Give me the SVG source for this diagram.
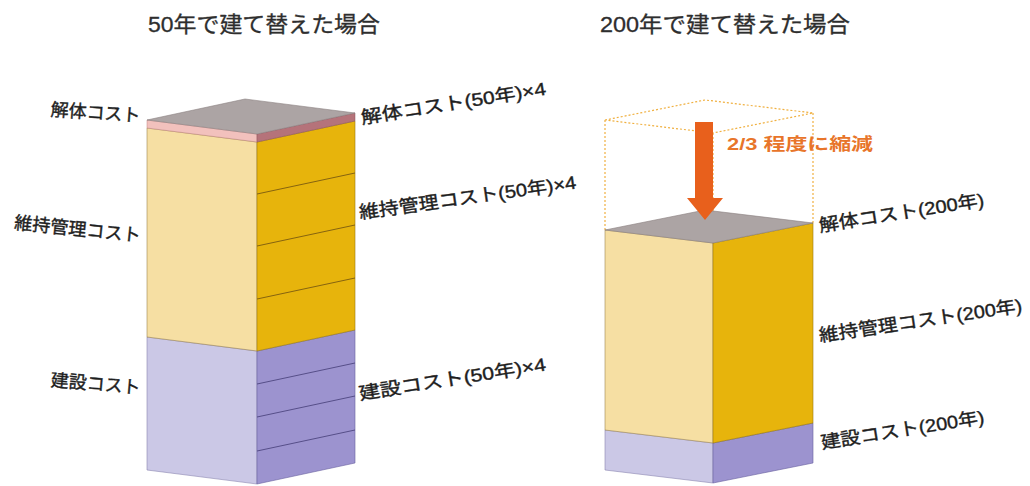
<svg xmlns="http://www.w3.org/2000/svg" width="1030" height="486" viewBox="0 0 1030 486">
<style>
text{font-family:"Liberation Sans","Noto Sans CJK JP",sans-serif;}
.title{font-size:22px;fill:#2e2e2e;stroke:#2e2e2e;stroke-width:0.3;}
.lbl{font-size:18px;fill:#1e1e1e;stroke:#1e1e1e;stroke-width:0.4;}
.top{fill:#aca4a4;stroke:#8a8080;stroke-width:0.6;}
.yl{fill:#f6dfa3;stroke:#a08850;stroke-width:0.6;}
.yr{fill:#e7b40c;stroke:#9a7a10;stroke-width:0.6;}
.pl{fill:#cbc8e6;stroke:#8a84b0;stroke-width:0.6;}
.pr{fill:#9c93cf;stroke:#6a62a0;stroke-width:0.6;}
.pkl{fill:#f2c1bd;stroke:#c08080;stroke-width:0.5;}
.pkr{fill:#b5737a;stroke:#8a5058;stroke-width:0.5;}
.div-y{stroke:#7a5a10;stroke-width:0.9;fill:none;}
.div-p{stroke:#4e4680;stroke-width:0.9;fill:none;}
.ghost{fill:none;stroke:#f0b040;stroke-width:1.2;stroke-dasharray:2 2;}
.red{font-size:17px;font-weight:bold;fill:#e8752a;}
</style>

<g id="titles">
<text class="title" x="148" y="32" textLength="232" lengthAdjust="spacingAndGlyphs">50年で建て替えた場合</text>
<text class="title" x="600" y="32" textLength="250" lengthAdjust="spacingAndGlyphs">200年で建て替えた場合</text>
</g>

<!-- Left box: 50 years -->
<g id="box50">
<g id="box50-construction">
<polygon class="pl" points="147,337 257,351 257,484 147,470"/>
<polygon class="pr" points="257,351 355,330 355,463 257,484"/>
<polyline class="div-p" points="257,384 355,363"/>
<polyline class="div-p" points="257,417 355,396"/>
<polyline class="div-p" points="257,451 355,430"/>
<text class="lbl" x="140" y="394" text-anchor="end" textLength="90" lengthAdjust="spacingAndGlyphs" transform="rotate(5 140 394)">建設コスト</text>
<text class="lbl" x="360" y="400" textLength="189" lengthAdjust="spacingAndGlyphs" transform="rotate(-9 360 400)">建設コスト(50年)×4</text>
</g>
<g id="box50-maintenance">
<polygon class="yl" points="147,128 257,142 257,351 147,337"/>
<polygon class="yr" points="257,142 355,121 355,330 257,351"/>
<polyline class="div-y" points="257,194 355,173"/>
<polyline class="div-y" points="257,246 355,225"/>
<polyline class="div-y" points="257,299 355,278"/>
<text class="lbl" x="140" y="242" text-anchor="end" textLength="127" lengthAdjust="spacingAndGlyphs" transform="rotate(6 140 242)">維持管理コスト</text>
<text class="lbl" x="360" y="219" textLength="219" lengthAdjust="spacingAndGlyphs" transform="rotate(-8 360 219)">維持管理コスト(50年)×4</text>
</g>
<g id="box50-demolition">
<polygon class="pkl" points="147,120 257,134 257,142 147,128"/>
<polygon class="pkr" points="257,134 355,113 355,121 257,142"/>
<polygon class="top" points="147,120 245,99 355,113 257,134"/>
<text class="lbl" x="140" y="122" text-anchor="end" textLength="90" lengthAdjust="spacingAndGlyphs" transform="rotate(4 140 122)">解体コスト</text>
<text class="lbl" x="362" y="124" textLength="187" lengthAdjust="spacingAndGlyphs" transform="rotate(-9 362 124)">解体コスト(50年)×4</text>
</g>
</g>

<!-- Right box: 200 years -->
<g id="box200">
<g id="box200-ghost">
<polygon class="ghost" points="605,120 705,100 813,113 713,133"/>
<line class="ghost" x1="605" y1="120" x2="605" y2="230"/>
<line class="ghost" x1="813" y1="113" x2="813" y2="223"/>
<line class="ghost" x1="713" y1="133" x2="713" y2="243"/>
</g>
<g id="box200-construction">
<polygon class="pl" points="605,430 713,443 713,483 605,470"/>
<polygon class="pr" points="713,443 813,423 813,463 713,483"/>
<text class="lbl" x="822" y="449" textLength="165" lengthAdjust="spacingAndGlyphs" transform="rotate(-9 822 449)">建設コスト(200年)</text>
</g>
<g id="box200-maintenance">
<polygon class="yl" points="605,230 713,243 713,443 605,430"/>
<polygon class="yr" points="713,243 813,223 813,423 713,443"/>
<text class="lbl" x="820" y="342" textLength="205" lengthAdjust="spacingAndGlyphs" transform="rotate(-8.5 820 342)">維持管理コスト(200年)</text>
</g>
<g id="box200-demolition">
<polygon class="top" points="605,230 705,210 813,223 713,243"/>
<text class="lbl" x="820" y="232" textLength="167" lengthAdjust="spacingAndGlyphs" transform="rotate(-9 820 232)">解体コスト(200年)</text>
</g>
</g>

<g id="connectors">
<polygon fill="#e8601c" points="695,122 713,122 713,198 723,198 705,220 687,198 695,198"/>
<text class="red" x="727" y="150" textLength="146" lengthAdjust="spacingAndGlyphs">2/3 程度に縮減</text>
</g>
</svg>
